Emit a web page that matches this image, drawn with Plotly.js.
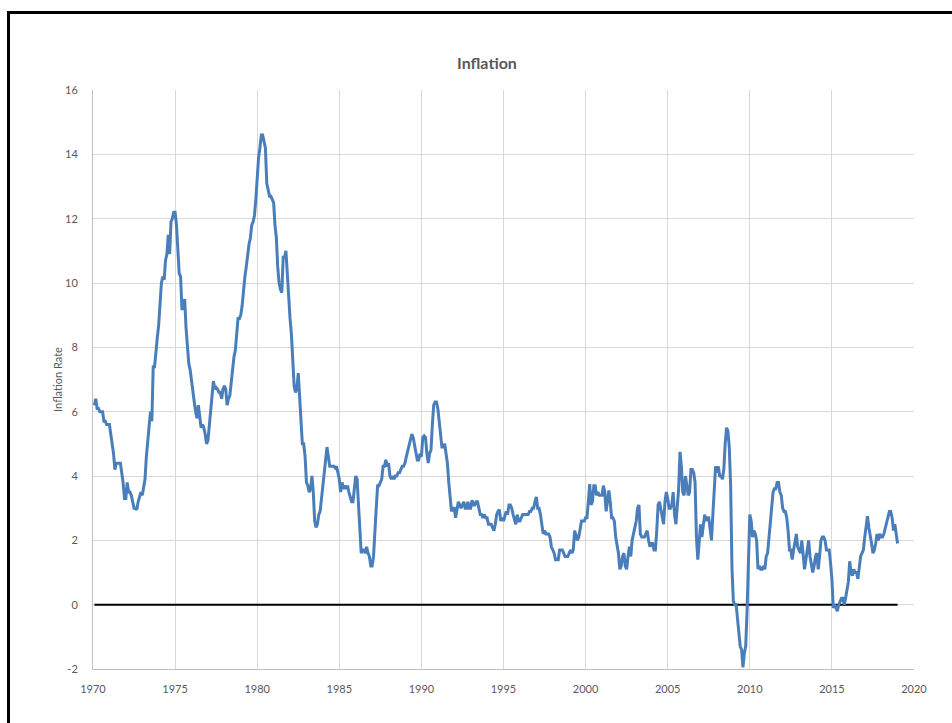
<!DOCTYPE html>
<html>
<head>
<meta charset="utf-8">
<script src="https://cdn.plot.ly/plotly-3.0.1.min.js"></script>
<style>
  html, body { margin: 0; padding: 0; background: #fff; overflow: hidden; }
  #chart { position: absolute; left: 0; top: 0; width: 952px; height: 723px; }
  #frame { position: absolute; left: 7px; top: 11px; width: 1000px; height: 800px;
           border: 3px solid #000; pointer-events: none; z-index: 5; }
</style>
</head>
<body>
<div id="chart"></div>
<div id="frame"></div>
<script>
// Year-over-year inflation (%), monthly, one array per decade (Jan..Dec per row)
const inflation1970s = [
  6.2, 6.4, 6.1, 6.1, 6.0, 6.0, 6.0, 5.7, 5.7, 5.6, 5.6, 5.6,
  5.3, 5.0, 4.7, 4.2, 4.4, 4.4, 4.4, 4.4, 4.1, 3.8, 3.3, 3.3,
  3.8, 3.5, 3.5, 3.4, 3.2, 3.0, 3.0, 2.95, 3.2, 3.4, 3.5, 3.4,
  3.6, 3.9, 4.6, 5.1, 5.5, 6.0, 5.7, 7.4, 7.4, 8.0, 8.3, 8.7,
  9.4, 10.0, 10.2, 10.1, 10.7, 10.9, 11.5, 10.9, 11.9, 12.0, 12.2, 12.2,
  11.8, 11.2, 10.3, 10.2, 9.2, 9.2, 9.5, 8.6, 7.9, 7.5, 7.3, 6.9,
  6.6, 6.3, 6.0, 5.8, 6.2, 5.9, 5.5, 5.6, 5.5, 5.3, 5.0, 5.1,
  5.6, 6.2, 6.5, 6.95, 6.7, 6.75, 6.7, 6.6, 6.6, 6.4, 6.7, 6.8,
  6.7, 6.2, 6.4, 6.5, 6.9, 7.4, 7.7, 7.9, 8.3, 8.9, 8.9, 9.0,
  9.3, 9.9, 10.2, 10.5, 10.9, 11.2, 11.4, 11.8, 11.9, 12.1, 12.6, 13.3
];
const inflation1980s = [
  13.9, 14.2, 14.6, 14.6, 14.4, 14.2, 13.1, 12.9, 12.7, 12.7, 12.6, 12.5,
  11.8, 11.4, 10.5, 10.0, 9.8, 9.7, 10.8, 10.8, 11.0, 10.1, 9.6, 8.9,
  8.4, 7.6, 6.8, 6.6, 6.7, 7.2, 6.4, 5.9, 5.0, 5.0, 4.6, 3.8,
  3.7, 3.5, 3.6, 4.0, 3.5, 2.6, 2.4, 2.5, 2.8, 2.9, 3.3, 3.8,
  4.2, 4.6, 4.9, 4.6, 4.3, 4.3, 4.3, 4.3, 4.25, 4.3, 4.1, 3.9,
  3.5, 3.8, 3.6, 3.7, 3.6, 3.7, 3.5, 3.3, 3.2, 3.2, 3.6, 4.0,
  3.9, 3.1, 2.2, 1.6, 1.7, 1.7, 1.6, 1.8, 1.6, 1.5, 1.2, 1.2,
  1.5, 2.1, 3.0, 3.7, 3.7, 3.8, 3.9, 4.3, 4.3, 4.5, 4.3, 4.4,
  4.0, 3.9, 4.0, 3.9, 4.0, 4.0, 4.1, 4.1, 4.2, 4.3, 4.3, 4.4,
  4.6, 4.8, 5.0, 5.1, 5.3, 5.2, 5.0, 4.7, 4.5, 4.5, 4.7, 4.6
];
const inflation1990s = [
  5.2, 5.25, 5.2, 4.7, 4.4, 4.7, 4.8, 5.6, 6.2, 6.3, 6.3, 6.1,
  5.7, 5.3, 4.9, 4.9, 5.0, 4.7, 4.4, 3.8, 3.4, 2.9, 3.0, 3.0,
  2.7, 2.9, 3.2, 3.1, 3.0, 3.1, 3.2, 3.0, 3.0, 3.2, 3.0, 3.0,
  3.25, 3.1, 3.1, 3.2, 3.2, 3.0, 2.8, 2.8, 2.7, 2.8, 2.7, 2.7,
  2.5, 2.5, 2.5, 2.4, 2.3, 2.5, 2.8, 2.9, 2.95, 2.6, 2.7, 2.6,
  2.8, 2.9, 2.8, 3.1, 3.1, 3.0, 2.8, 2.6, 2.5, 2.8, 2.6, 2.6,
  2.7, 2.8, 2.8, 2.8, 2.8, 2.8, 2.9, 2.9, 3.0, 3.0, 3.2, 3.35,
  3.0, 3.0, 2.8, 2.5, 2.2, 2.3, 2.2, 2.2, 2.2, 2.1, 1.8, 1.7,
  1.6, 1.4, 1.4, 1.4, 1.7, 1.7, 1.7, 1.6, 1.5, 1.5, 1.5, 1.6,
  1.7, 1.6, 1.7, 2.3, 2.1, 2.0, 2.1, 2.3, 2.6, 2.6, 2.6, 2.7
];
const inflation2000s = [
  2.7, 3.2, 3.75, 3.1, 3.2, 3.7, 3.7, 3.4, 3.5, 3.4, 3.4, 3.4,
  3.7, 3.5, 2.9, 3.3, 3.55, 3.2, 2.7, 2.7, 2.6, 2.1, 1.9, 1.6,
  1.1, 1.2, 1.5, 1.6, 1.2, 1.1, 1.5, 1.8, 1.5, 2.0, 2.2, 2.4,
  2.6, 3.0, 3.1, 2.2, 2.1, 2.1, 2.1, 2.2, 2.3, 2.0, 1.8, 1.9,
  1.9, 1.7, 1.7, 2.3, 3.1, 3.2, 3.0, 2.7, 2.5, 3.2, 3.5, 3.3,
  3.0, 3.0, 3.1, 3.5, 2.8, 2.5, 3.2, 3.6, 4.75, 4.3, 3.5, 3.4,
  4.0, 3.6, 3.4, 3.5, 4.2, 4.2, 4.1, 3.8, 2.1, 1.4, 2.0, 2.5,
  2.1, 2.4, 2.8, 2.6, 2.7, 2.7, 2.4, 2.0, 2.8, 3.5, 4.3, 4.1,
  4.3, 4.0, 4.0, 3.9, 4.2, 5.0, 5.5, 5.4, 4.9, 3.7, 1.1, 0.1,
  0.0, 0.0, -0.4, -0.7, -1.3, -1.4, -1.95, -1.5, -1.3, -0.2, 1.8, 2.8
];
const inflation2010s = [
  2.6, 2.1, 2.3, 2.2, 2.0, 1.1, 1.2, 1.1, 1.1, 1.2, 1.1, 1.5,
  1.6, 2.1, 2.7, 3.2, 3.5, 3.6, 3.6, 3.8, 3.8, 3.5, 3.4, 3.0,
  2.9, 2.9, 2.7, 2.3, 1.7, 1.7, 1.4, 1.7, 2.0, 2.2, 1.8, 1.7,
  1.6, 2.0, 1.5, 1.1, 1.4, 1.8, 2.0, 1.5, 1.2, 1.0, 1.2, 1.5,
  1.6, 1.1, 1.5, 2.0, 2.1, 2.1, 2.0, 1.7, 1.7, 1.7, 1.3, 0.8,
  -0.1, 0.0, -0.1, -0.2, 0.0, 0.1, 0.2, 0.2, 0.0, 0.2, 0.5, 0.7,
  1.35, 1.0, 0.9, 1.1, 1.0, 1.0, 0.8, 1.1, 1.5, 1.6, 1.7, 2.1,
  2.5, 2.75, 2.4, 2.2, 1.9, 1.6, 1.7, 1.9, 2.2, 2.0, 2.2, 2.1,
  2.1, 2.2, 2.4, 2.5, 2.8, 2.9, 2.9, 2.7, 2.3, 2.5, 2.2, 1.9
];

const startYear = 1970;
const xTicks = [1970, 1975, 1980, 1985, 1990, 1995, 2000, 2005, 2010, 2015, 2020];
const yTicks = [-2, 0, 2, 4, 6, 8, 10, 12, 14, 16];
const yTickText = ["-2", "0", "2", "4", "6", "8", "10", "12", "14", "16"];

const rates = [].concat(inflation1970s, inflation1980s, inflation1990s,
                        inflation2000s, inflation2010s);
// each month sits at year + month/12 (Jan = +1/12)
const dates = rates.map((_, i) => startYear + (i + 1) / 12);

const font = "Lato, 'Open Sans', sans-serif";
const grey = "#595959";

const traces = [
  {
    x: [dates[0], dates[dates.length - 1]],
    y: [0, 0],
    type: "scatter",
    mode: "lines",
    line: { color: "#000000", width: 2 },
    hoverinfo: "skip"
  },
  {
    x: dates,
    y: rates,
    type: "scatter",
    mode: "lines",
    line: { color: "#4a7ebb", width: 3 },
    name: "Inflation"
  }
];

const layout = {
  width: 952,
  height: 723,
  margin: { l: 93, r: 38, t: 90, b: 54 },
  paper_bgcolor: "#ffffff",
  plot_bgcolor: "#ffffff",
  showlegend: false,
  font: { family: font, color: grey, size: 11 },
  title: {
    text: "<b>Inflation</b>",
    font: { family: font, size: 16, color: grey },
    x: 487 / 952, xref: "container", xanchor: "center",
    y: 1 - 63 / 723, yref: "container", yanchor: "middle"
  },
  xaxis: {
    range: [1970, 2020],
    tickvals: xTicks,
    ticktext: xTicks.map(String),
    showgrid: true,
    gridcolor: "#d9d9d9",
    gridwidth: 1,
    showline: true,
    linecolor: "#bfbfbf",
    linewidth: 1,
    ticks: "",
    ticklabelstandoff: 10,
    zeroline: false,
    tickfont: { family: font, size: 11, color: grey }
  },
  yaxis: {
    range: [-2, 16],
    tickvals: yTicks,
    ticktext: yTickText,
    showgrid: true,
    gridcolor: "#d9d9d9",
    gridwidth: 1,
    showline: true,
    linecolor: "#bfbfbf",
    linewidth: 1,
    ticks: "",
    ticklabelstandoff: 12,
    zeroline: false,
    tickfont: { family: font, size: 11, color: grey },
    title: {
      text: "Inflation Rate",
      font: { family: font, size: 11, color: grey },
      standoff: 0
    }
  }
};

Plotly.newPlot("chart", traces, layout, { staticPlot: true, displayModeBar: false });
</script>
</body>
</html>
